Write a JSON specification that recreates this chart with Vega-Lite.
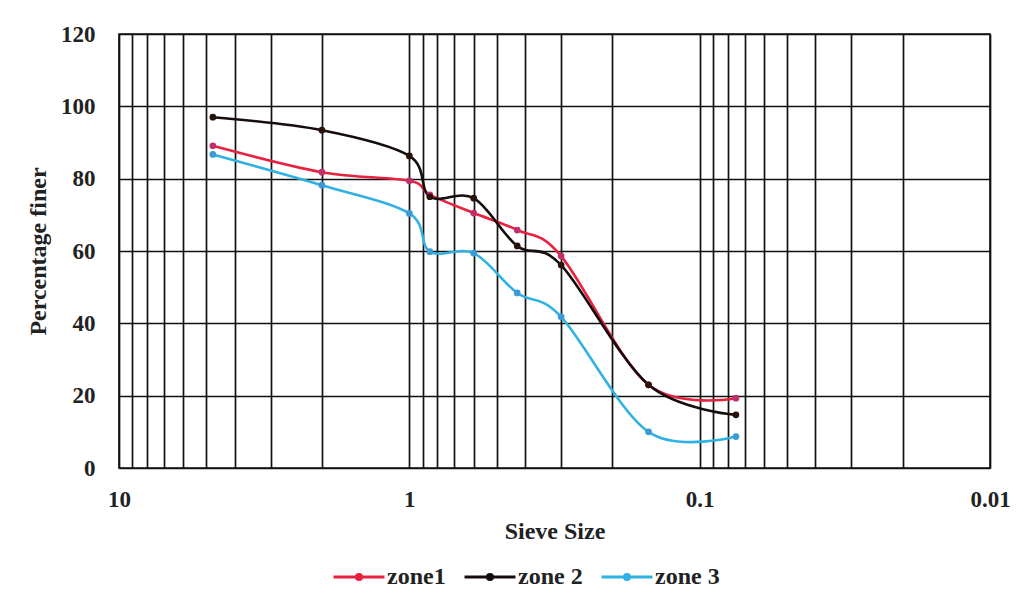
{
  "$schema": "https://vega.github.io/schema/vega-lite/v6.json",
  "width": 871,
  "height": 434,
  "autosize": {"type": "none"},
  "padding": {"left": 119, "top": 34, "right": 46, "bottom": 138},
  "background": "white",
  "config": {
    "font": "Liberation Serif",
    "view": {"stroke": "#111", "strokeWidth": 1.6},
    "axis": {"labelFont": "Liberation Serif", "titleFont": "Liberation Serif", "labelFontWeight": "bold", "titleFontWeight": "bold", "labelColor": "#222", "titleColor": "#222"},
    "legend": {"labelFont": "Liberation Serif", "labelFontWeight": "bold", "labelColor": "#222"}
  },
  "data": {
    "values": [
      {"sieve": 4.75, "zone": "zone1", "finer": 89.1},
      {"sieve": 2, "zone": "zone1", "finer": 81.8},
      {"sieve": 1, "zone": "zone1", "finer": 79.4},
      {"sieve": 0.85, "zone": "zone1", "finer": 75.5},
      {"sieve": 0.6, "zone": "zone1", "finer": 70.5},
      {"sieve": 0.425, "zone": "zone1", "finer": 65.8},
      {"sieve": 0.3, "zone": "zone1", "finer": 58.6},
      {"sieve": 0.15, "zone": "zone1", "finer": 23},
      {"sieve": 0.075, "zone": "zone1", "finer": 19.3},
      {"sieve": 4.75, "zone": "zone 2", "finer": 97},
      {"sieve": 2, "zone": "zone 2", "finer": 93.4},
      {"sieve": 1, "zone": "zone 2", "finer": 86.3},
      {"sieve": 0.85, "zone": "zone 2", "finer": 75},
      {"sieve": 0.6, "zone": "zone 2", "finer": 74.6},
      {"sieve": 0.425, "zone": "zone 2", "finer": 61.4},
      {"sieve": 0.3, "zone": "zone 2", "finer": 56.1},
      {"sieve": 0.15, "zone": "zone 2", "finer": 23},
      {"sieve": 0.075, "zone": "zone 2", "finer": 14.7},
      {"sieve": 4.75, "zone": "zone 3", "finer": 86.7},
      {"sieve": 2, "zone": "zone 3", "finer": 78.2},
      {"sieve": 1, "zone": "zone 3", "finer": 70.4},
      {"sieve": 0.85, "zone": "zone 3", "finer": 59.8},
      {"sieve": 0.6, "zone": "zone 3", "finer": 59.4},
      {"sieve": 0.425, "zone": "zone 3", "finer": 48.4},
      {"sieve": 0.3, "zone": "zone 3", "finer": 41.8},
      {"sieve": 0.15, "zone": "zone 3", "finer": 10},
      {"sieve": 0.075, "zone": "zone 3", "finer": 8.7}
    ]
  },
  "encoding": {
    "x": {
      "field": "sieve", "type": "quantitative",
      "scale": {"type": "log", "domain": [10, 0.01], "nice": false},
      "axis": {
        "title": "Sieve Size", "titleFontSize": 24, "titlePadding": 8,
        "values": [10, 9, 8, 7, 6, 5, 4, 3, 2, 1, 0.9, 0.8, 0.7, 0.6, 0.5, 0.4, 0.3, 0.2, 0.1, 0.09, 0.08, 0.07, 0.06, 0.05, 0.04, 0.03, 0.02, 0.01],
        "labelExpr": "indexof([10, 1, 0.1, 0.01], datum.value) >= 0 ? datum.label : ''",
        "format": "~g",
        "labelOverlap": false, "labelFlush": false,
        "labelFontSize": 23, "labelPadding": 20, "ticks": false, "domain": false,
        "grid": true, "gridColor": "#111", "gridWidth": 1.7, "gridOpacity": 1
      }
    },
    "y": {
      "field": "finer", "type": "quantitative",
      "scale": {"domain": [0, 120], "nice": false},
      "axis": {
        "title": "Percentage finer", "titleFontSize": 24, "titlePadding": 10,
        "values": [0, 20, 40, 60, 80, 100, 120],
        "labelFontSize": 23, "labelPadding": 24, "ticks": false, "domain": false,
        "grid": true, "gridColor": "#111", "gridWidth": 1.7, "gridOpacity": 1
      }
    }
  },
  "layer": [
    {
      "mark": {"type": "line", "interpolate": "cardinal", "strokeWidth": 2.6},
      "encoding": {
        "stroke": {
          "field": "zone", "type": "nominal",
          "scale": {"domain": ["zone1", "zone 2", "zone 3"], "range": ["#e8213f", "#150d0d", "#2fb2e3"]},
          "legend": {
            "title": null, "orient": "none", "direction": "horizontal",
            "legendX": 213, "legendY": 516,
            "labelFontSize": 24, "labelOffset": 1,
            "symbolType": "M-1,0L1,0M-0.1,0A0.1,0.1 0 1,0 0.1,0A0.1,0.1 0 1,0 -0.1,0",
            "symbolSize": 2600, "symbolStrokeWidth": 3, "columnPadding": 12
          }
        }
      }
    },
    {
      "mark": {"type": "point", "filled": true, "size": 45, "opacity": 1},
      "encoding": {
        "fill": {
          "field": "zone", "type": "nominal",
          "scale": {"domain": ["zone1", "zone 2", "zone 3"], "range": ["#c2306c", "#2a1208", "#3c9ad4"]},
          "legend": null
        }
      }
    }
  ]
}
